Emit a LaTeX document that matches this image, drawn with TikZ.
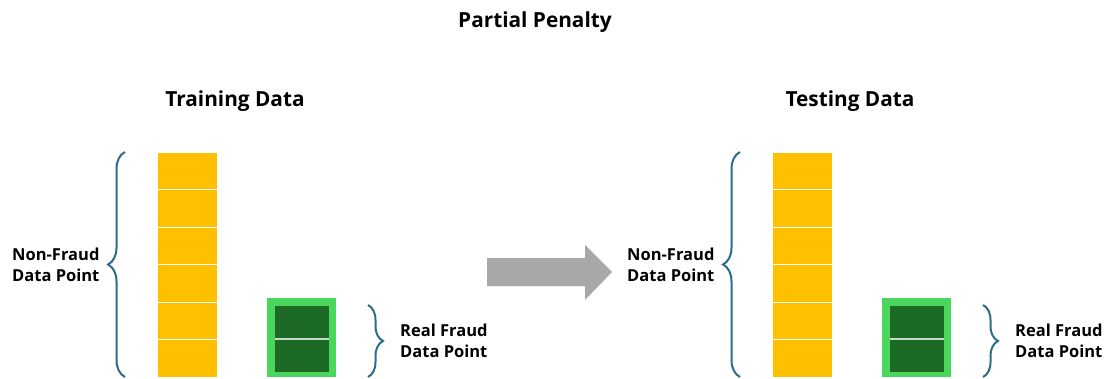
\documentclass[tikz,border=0pt]{standalone}
\usepackage{fontspec}
\setmainfont{Open Sans}
\usetikzlibrary{decorations.pathreplacing}
\definecolor{ylw}{HTML}{FFC000}
\definecolor{dgreen}{HTML}{1C6A25}
\definecolor{lgreen}{HTML}{4BD65E}
\definecolor{bracec}{HTML}{2E6A8A}
\definecolor{arrowc}{HTML}{A8A8A8}
\tikzset{
  cell/.style={fill=ylw, draw=white, line width=0.8pt, minimum width=60pt, minimum height=37.5pt, inner sep=0pt, outer sep=0pt},
  gcell/.style={fill=dgreen, draw=none, minimum width=54pt, minimum height=66pt, inner sep=0pt, outer sep=0pt},
  gframe/.style={fill=lgreen, draw=none, minimum width=69pt, minimum height=79pt, inner sep=0pt},
  brc/.style={draw=bracec, line width=2pt, decorate, decoration={brace, amplitude=#1}},
  lbl/.style={font=\bfseries\fontsize{16.5}{20.5}\selectfont, align=left, anchor=west, inner sep=0pt},
  ttl/.style={font=\bfseries\fontsize{20.8}{24}\selectfont, inner sep=0pt},
}
\begin{document}
\begin{tikzpicture}[x=1pt,y=-1pt]
\useasboundingbox (0,0) rectangle (1110,378);
\node[ttl] (title) at (535,22) {Partial Penalty};
\foreach \o/\name/\t in {0/L/Training Data,615/R/Testing Data}{
  \begin{scope}[xshift=\o pt]
  \node[ttl] (head\name) at (235,101) {\t};
  \foreach \i in {0,...,5}{
    \node[cell] (y\name\i) at (187,{170.75+37.5*\i}) {};
  }
  \node[gframe] (gf\name) at (301.5,337.5) {};
  \node[gcell] (g\name) at (302,339) {};
  \draw[white!75!dgreen, line width=1.2pt] (g\name.west) -- (g\name.east);
  \coordinate (b1\name) at (125,377);
  \coordinate (b2\name) at (125,152);
  \draw[brc=17pt] (b1\name) -- (b2\name);
  \coordinate (c1\name) at (368,305);
  \coordinate (c2\name) at (368,377);
  \draw[brc=15pt] (c1\name) -- (c2\name);
  \node[lbl] (nf\name) at (12,265) {Non-Fraud\\Data Point};
  \node[lbl] (rf\name) at (400,341) {Real Fraud\\Data Point};
  \end{scope}
}
\fill[arrowc] (487,258) -- (585,258) -- (585,245) -- (612,272) -- (585,300) -- (585,286) -- (487,286) -- cycle;
\end{tikzpicture}
\end{document}
